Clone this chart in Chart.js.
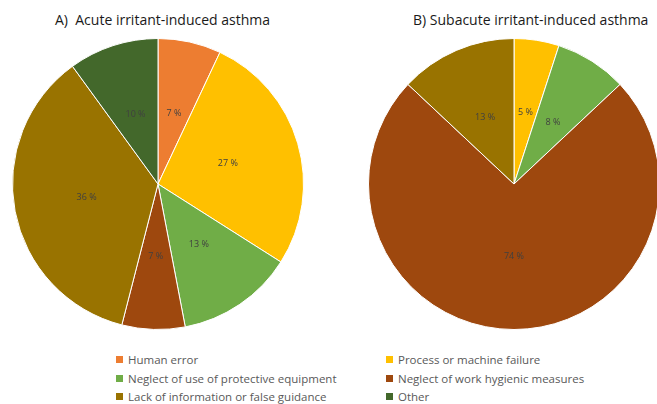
<!DOCTYPE html>
<html>
  <head>
    <title>Irritant-induced asthma causes</title>
    <script src="https://cdn.jsdelivr.net/npm/chart.js"></script>
    <style>
      html, body { margin: 0; padding: 0; background: #fff; }
      body { width: 657px; height: 404px; position: relative; overflow: hidden; font-family: "Open Sans", sans-serif; }
      canvas { position: absolute; }
      .title { position: absolute; top: 10px; font-size: 14px; color: #1a1a1a; white-space: nowrap; }
      .legend-item { position: absolute; font-size: 11.5px; color: #595959; white-space: nowrap; line-height: 14px; }
      .legend-item span { display: inline-block; width: 7px; height: 7px; margin-right: 5px; vertical-align: 1px; }
    </style>
  </head>
  <body>
    <div class="title" id="titleA" style="left: 55px;">A)&nbsp; Acute irritant-induced asthma</div>
    <div class="title" id="titleB" style="left: 413px;">B) Subacute irritant-induced asthma</div>
    <canvas id="chartA" width="292" height="292" style="left: 12px; top: 38px;"></canvas>
    <canvas id="chartB" width="292" height="292" style="left: 368px; top: 38px;"></canvas>
    <div id="legend"></div>
    <script>
      var categories = [
        "Human error",
        "Process or machine failure",
        "Neglect of use of protective equipment",
        "Neglect of work hygienic measures",
        "Lack of information or false guidance",
        "Other",
      ];
      var acuteValues = [7, 27, 13, 7, 36, 10];
      var subacuteValues = [0, 5, 8, 74, 13, 0];
      var colors = ["#ED7D31", "#FFC000", "#70AD47", "#9E480E", "#997300", "#43682B"];

      // percentage text at the middle of each slice
      var pctLabels = {
        id: "pctLabels",
        afterDatasetsDraw: function (chart) {
          var ctx = chart.ctx;
          var meta = chart.getDatasetMeta(0);
          var values = chart.data.datasets[0].data;
          ctx.save();
          ctx.font = '9px "Open Sans"';
          ctx.fillStyle = "#404040";
          ctx.textAlign = "center";
          ctx.textBaseline = "middle";
          meta.data.forEach(function (arc, i) {
            if (!values[i]) return;
            var p = arc.tooltipPosition();
            ctx.fillText(values[i] + " %", p.x, p.y);
          });
          ctx.restore();
        },
      };

      function makePie(id, values) {
        var ctx = document.getElementById(id).getContext("2d");
        return new Chart(ctx, {
          type: "pie",
          data: {
            labels: categories,
            datasets: [
              {
                data: values,
                backgroundColor: colors,
                borderColor: "#ffffff",
                borderWidth: 1,
              },
            ],
          },
          options: {
            responsive: false,
            animation: false,
            layout: { padding: 0 },
            plugins: {
              legend: { display: false },
              tooltip: { enabled: false },
            },
          },
          plugins: [pctLabels],
        });
      }

      makePie("chartA", acuteValues);
      makePie("chartB", subacuteValues);

      // two-column legend below the pies
      var legend = document.getElementById("legend");
      categories.forEach(function (name, i) {
        var item = document.createElement("div");
        item.className = "legend-item";
        item.style.left = (i % 2 === 0 ? 116 : 386) + "px";
        item.style.top = 353 + Math.floor(i / 2) * 18.5 + "px";
        item.innerHTML = '<span style="background:' + colors[i] + '"></span>' + name;
        legend.appendChild(item);
      });
    </script>
  </body>
</html>
